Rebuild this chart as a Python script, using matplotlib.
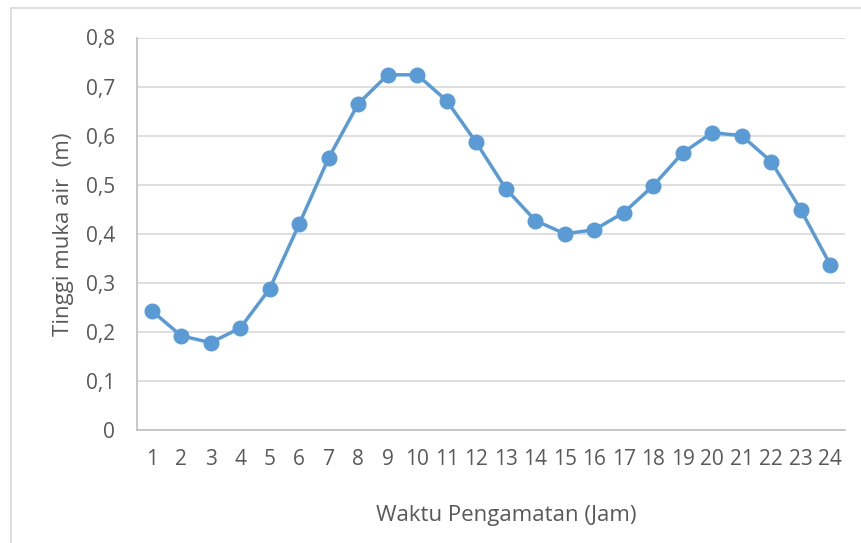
import matplotlib.pyplot as plt
from matplotlib.patches import Rectangle
from matplotlib.ticker import FuncFormatter

jam = list(range(1, 25))
tinggi = [0.243, 0.192, 0.178, 0.208, 0.288, 0.420, 0.555, 0.665, 0.724, 0.724,
          0.671, 0.586, 0.492, 0.427, 0.400, 0.408, 0.443, 0.498, 0.565, 0.606,
          0.600, 0.547, 0.449, 0.337]
y_ticks = [0, 0.1, 0.2, 0.3, 0.4, 0.5, 0.6, 0.7, 0.8]

plt.rcParams['font.family'] = ['Open Sans', 'DejaVu Sans']
txt = '#595959'

fig = plt.figure(figsize=(8.62, 5.43), dpi=100)
W, H = 862, 543
ax = fig.add_axes([137 / W, 1 - 430 / H, (845 - 137) / W, (430 - 37.5) / H])

# outer chart border (only top and left edge visible in the crop)
fig.patches.append(Rectangle((11 / W, -0.1), 1.2, 1.1 - 8 / H,
                             transform=fig.transFigure, fill=False,
                             edgecolor='#d9d9d9', lw=1.2))

ax.plot(jam, tinggi, color='#5b9bd5', lw=2.5, marker='o', ms=10.5, zorder=3)

ax.set_xlim(0.5, 24.5)
ax.set_ylim(0, 0.8)
ax.set_xticks(jam)
ax.set_yticks(y_ticks)
ax.yaxis.set_major_formatter(FuncFormatter(
    lambda v, p: '0' if v == 0 else f'{v:.1f}'.replace('.', ',')))
ax.grid(axis='y', color='#d9d9d9', lw=1.2)
ax.set_axisbelow(True)

for s in ['top', 'right']:
    ax.spines[s].set_visible(False)
for s in ['left', 'bottom']:
    ax.spines[s].set_color('#bfbfbf')
    ax.spines[s].set_linewidth(1.2)
ax.tick_params(length=0, labelsize=15, colors=txt)
ax.tick_params(axis='y', pad=16)
ax.tick_params(axis='x', pad=14)

ax.set_xlabel('Waktu Pengamatan (Jam)', fontsize=16, color=txt, labelpad=22)
ax.xaxis.set_label_coords(0.521, -0.19)
ax.set_ylabel('Tinggi muka air  (m)', fontsize=16, color=txt, labelpad=8)

fig.savefig('out.png', dpi=100)
